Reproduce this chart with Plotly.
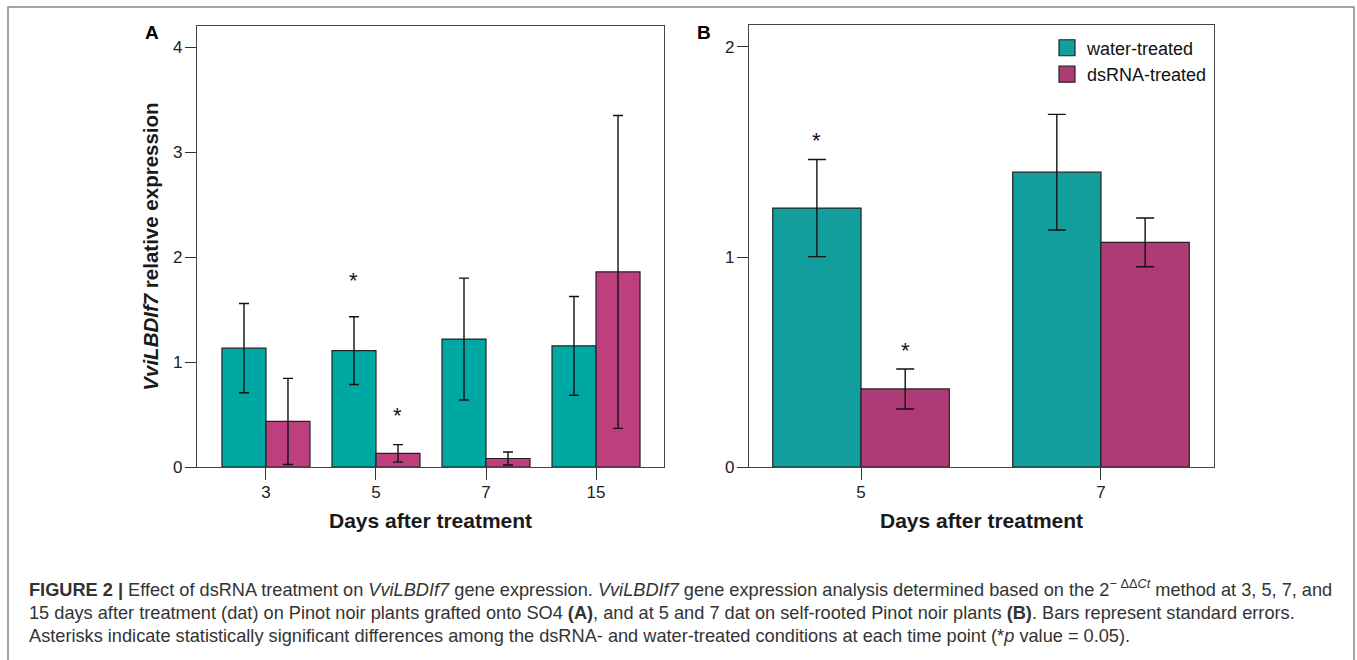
import plotly.graph_objects as go

# ---------------- data ----------------
days_a = ["3", "5", "7", "15"]
water_a = [1.133, 1.11, 1.22, 1.155]
water_a_se = [0.425, 0.323, 0.58, 0.47]
dsrna_a = [0.435, 0.131, 0.082, 1.859]
dsrna_a_se = [0.41, 0.083, 0.062, 1.49]
sig_a_water = [None, 1.83, None, None]
sig_a_dsrna = [None, 0.545, None, None]

days_b = ["5", "7"]
water_b = [1.233, 1.404]
water_b_se = [0.231, 0.275]
dsrna_b = [0.372, 1.07]
dsrna_b_se = [0.095, 0.116]
sig_b_water = [1.583, None]
sig_b_dsrna = [0.583, None]

series_names = ["water-treated", "dsRNA-treated"]

# ---------------- style ----------------
W, H = 1357, 660
FONT = "Arial, 'Liberation Sans', Helvetica, sans-serif"
TEAL_A, MAG_A = "#00A8A4", "#BE3F7E"
TEAL_B, MAG_B = "#129E9C", "#AE3B75"
EDGE = "#222222"


def px(x):
    return x / W


def py(y):
    return 1 - y / H


fig = go.Figure()

# Panel A bars
wa = 0.4
fig.add_trace(go.Bar(
    x=list(range(len(days_a))), y=water_a, width=wa, offset=-wa,
    marker=dict(color=TEAL_A, line=dict(color=EDGE, width=1.2)),
    error_y=dict(type="data", array=water_a_se, color="#111", thickness=1.4, width=5),
    name=series_names[0], showlegend=False, xaxis="x", yaxis="y"))
fig.add_trace(go.Bar(
    x=list(range(len(days_a))), y=dsrna_a, width=wa, offset=0,
    marker=dict(color=MAG_A, line=dict(color=EDGE, width=1.2)),
    error_y=dict(type="data", array=dsrna_a_se, color="#111", thickness=1.4, width=5),
    name=series_names[1], showlegend=False, xaxis="x", yaxis="y"))

# Panel B bars
wb = 0.368
fig.add_trace(go.Bar(
    x=list(range(len(days_b))), y=water_b, width=wb, offset=-wb,
    marker=dict(color=TEAL_B, line=dict(color=EDGE, width=1.2)),
    error_y=dict(type="data", array=water_b_se, color="#111", thickness=1.4, width=9),
    name=series_names[0], showlegend=False, xaxis="x2", yaxis="y2"))
fig.add_trace(go.Bar(
    x=list(range(len(days_b))), y=dsrna_b, width=wb, offset=0,
    marker=dict(color=MAG_B, line=dict(color=EDGE, width=1.2)),
    error_y=dict(type="data", array=dsrna_b_se, color="#111", thickness=1.4, width=9),
    name=series_names[1], showlegend=False, xaxis="x2", yaxis="y2"))

# legend entries
for nm, col in zip(series_names, [TEAL_B, MAG_B]):
    fig.add_trace(go.Scatter(
        x=[None], y=[None], mode="markers", name=nm,
        marker=dict(symbol="square", size=16, color=col, line=dict(color=EDGE, width=1.2)),
        xaxis="x2", yaxis="y2", showlegend=True))

annotations = []
# significance asterisks
for sig, off, xr, yr in [(sig_a_water, -wa / 2, "x", "y"), (sig_a_dsrna, wa / 2, "x", "y"),
                         (sig_b_water, -wb / 2, "x2", "y2"), (sig_b_dsrna, wb / 2, "x2", "y2")]:
    for i, v in enumerate(sig):
        if v is not None:
            annotations.append(dict(x=i + off, y=v, xref=xr, yref=yr, text="*", showarrow=False,
                                    xanchor="center", yanchor="middle", yshift=-6,
                                    font=dict(size=22, color="#111", family=FONT)))

# axis titles
for xr in ["x domain", "x2 domain"]:
    annotations.append(dict(x=0.5, y=py(528), xref=xr, yref="paper", text="<b>Days after treatment</b>",
                            showarrow=False, xanchor="center", yanchor="middle",
                            font=dict(size=21, color="#1a1a1a", family=FONT)))
annotations.append(dict(x=px(151), y=0.5, xref="paper", yref="y domain",
                        text="<b><i>VviLBDIf7</i> relative expression</b>", textangle=-90,
                        showarrow=False, xanchor="center", yanchor="middle",
                        font=dict(size=20.5, color="#1a1a1a", family=FONT)))
# panel letters
annotations.append(dict(x=px(152), y=py(33), xref="paper", yref="paper", text="<b>A</b>",
                        showarrow=False, xanchor="center", yanchor="middle",
                        font=dict(size=19, color="#000", family=FONT)))
annotations.append(dict(x=px(704), y=py(33), xref="paper", yref="paper", text="<b>B</b>",
                        showarrow=False, xanchor="center", yanchor="middle",
                        font=dict(size=19, color="#000", family=FONT)))

# caption
CAP_FONT = "'Liberation Sans', Arial, Helvetica, sans-serif"
caption_lines = [
    "<b>FIGURE 2 |</b> Effect of dsRNA treatment on <i>VviLBDIf7</i> gene expression. "
    "<i>VviLBDIf7</i> gene expression analysis determined based on the 2<sup>\u2212 \u0394\u0394<i>Ct</i></sup> "
    "method at 3, 5, 7, and",
    "15 days after treatment (dat) on Pinot noir plants grafted onto SO4 <b>(A)</b>, and at 5 and 7 dat on "
    "self-rooted Pinot noir plants <b>(B)</b>. Bars represent standard errors.",
    "Asterisks indicate statistically significant differences among the dsRNA- and water-treated "
    "conditions at each time point (*<i>p</i> value = 0.05).",
]
for txt, yb in zip(caption_lines, [611.5, 634.5, 657.5]):
    annotations.append(dict(x=px(27), y=py(yb), xref="paper", yref="paper", text=txt,
                            showarrow=False, xanchor="left", yanchor="bottom",
                            font=dict(size=18.2, color="#333", family=CAP_FONT)))

axis_common = dict(showgrid=False, zeroline=False, showline=True, linecolor="#444", linewidth=1.2,
                   mirror=True, ticks="outside", tickcolor="#333", tickwidth=1.2,
                   tickfont=dict(size=17, color="#222", family=FONT))

fig.update_layout(
    width=W, height=H, margin=dict(l=0, r=0, t=0, b=0),
    paper_bgcolor="white", plot_bgcolor="white",
    font=dict(family=FONT),
    barmode="overlay",
    xaxis=dict(domain=[px(197), px(664)], range=[-0.627, 3.618], tickvals=list(range(len(days_a))),
               ticktext=days_a, ticklen=12, ticklabelstandoff=-3, anchor="y", **axis_common),
    yaxis=dict(domain=[py(474.3), py(26.6)], range=[0, 4.2], tickvals=[0, 1, 2, 3, 4],
               ticklen=11, ticklabelstandoff=-1, anchor="x", **axis_common),
    xaxis2=dict(domain=[px(749), px(1214)], range=[-0.467, 1.471], tickvals=list(range(len(days_b))),
                ticktext=days_b, ticklen=12, ticklabelstandoff=-3, anchor="y2", **axis_common),
    yaxis2=dict(domain=[py(474.3), py(25.3)], range=[0, 2.105], tickvals=[0, 1, 2],
                ticklen=11, ticklabelstandoff=-1, anchor="x2", **axis_common),
    legend=dict(x=px(1047), y=py(30), xanchor="left", yanchor="top", bgcolor="rgba(0,0,0,0)",
                font=dict(size=18, color="#111", family=FONT), tracegroupgap=0, itemwidth=30),
    annotations=annotations,
    shapes=[dict(type="rect", xref="paper", yref="paper", x0=px(8), x1=px(1354),
                 y0=-0.05, y1=py(7),
                 line=dict(color="#888", width=1.5), fillcolor="rgba(0,0,0,0)", layer="below")],
)

# remove the browser's default page margin so the figure fills the window exactly
fig.write_html("out.html", config={"displayModeBar": False},
               post_script="document.body.style.margin='0';document.body.style.overflow='hidden';")
